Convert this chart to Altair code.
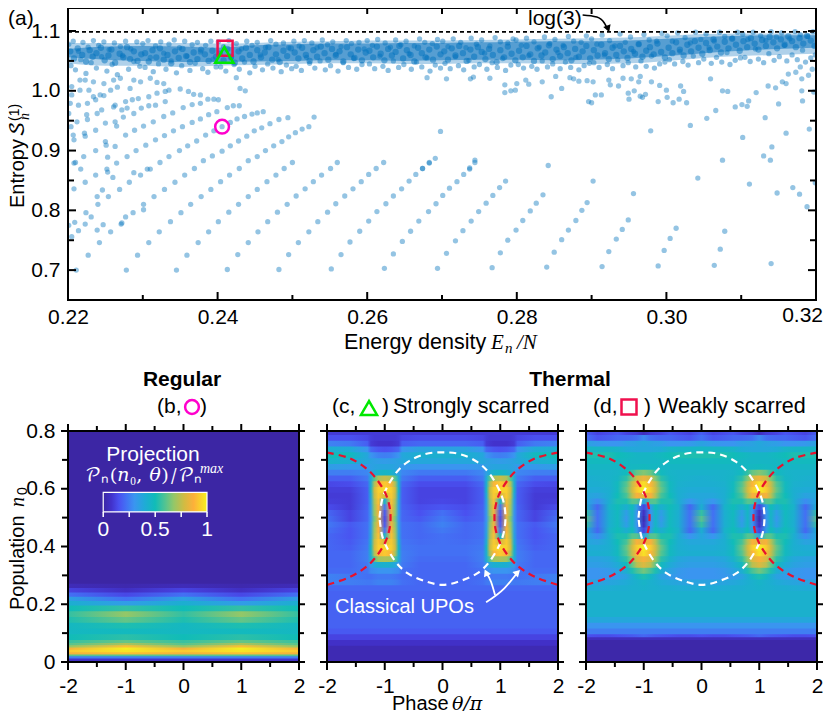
import altair as alt

FONT = "Liberation Sans"
SERIF = "Liberation Serif"
MATH = "DejaVu Math TeX Gyre"
DOT = "#0072bd"

# ---- panel (a): entropy vs energy density. x in 1e-4, y in 1e-3
FAN_X = [2278,2345,2413,2482,2552,2623,2694,2767,2840,2914,2989,3064,3140,
 2293,2359,2427,2495,2565,2635,2706,2778,2850,2923,2997,3072,
 2308,2374,2441,2508,2577,2647,2718,2788,2860,2933,3005,
 2322,2388,2454,2522,2590,2658,2728,2799,2869,2941,3013,
 2337,2401,2467,2534,2602,2669,2739,2808,2879,2949,
 2351,2415,2480,2547,2613,2682,2749,2818,2887,
 2364,2428,2493,2558,2625,2692,2759,2826,2894,
 2315,2378,2441,2505,2570,2635,2701,2768,2835,
 2329,2391,2453,2517,2581,2646,2710,2777,
 2343,2404,2466,2528,2592,2656,2720,2785,
 2356,2416,2478,2539,2602,2665,2729,
 2369,2429,2489,2551,2612,2674,2737,
 2323,2500,2560,2622,2683,2744,
 2381,2393,2406,2417,2428,2439,2449,2459,2470,2482,2494,
 2441,2453,2464,2475,2486,2495,2504,2513,2522,2529,
 2335,2349,2360,2372,2384,2395,2406,2417,2426,2436,2446,2453,2461,
 2279,2291,2304,2317,2329,2341,2353,2366,2377,2388,2399,2413,2421,2429,
 2289,2301,2314,2328,2340,2354,2366,2377,2387,2401,2395]
FAN_Y = [700,700,701,701,702,703,703,704,705,706,707,708,711,
 725,725,726,726,726,727,728,729,730,731,733,735,
 746,746,746,746,747,748,749,750,751,752,753,
 764,764,764,764,765,765,766,767,767,768,770,
 781,781,781,781,782,782,782,783,783,784,
 796,797,797,797,798,798,798,799,800,
 810,810,810,811,811,811,812,812,813,
 823,823,823,824,824,824,825,825,826,
 835,835,835,836,836,836,837,838,
 847,848,848,848,848,849,848,849,
 859,859,859,859,860,860,860,
 870,870,870,870,870,870,871,
 880,880,880,880,880,880,
 883,891,899,908,916,924,933,938,945,952,955,
 883,890,900,908,915,923,930,936,940,956,
 890,900,908,916,926,933,940,947,953,957,961,963,965,
 890,900,909,918,925,933,940,947,953,960,965,972,975,975,
 934,941,948,957,963,972,977,979,986,985,986]
LOOSE_X = [2680,2706,2738,2742,2764,2784,2800,2812,2816,2834,2784,2792,2798,2846,2860,2852,2871,2876,2883,2894,2902,2896,2900,2905,2913,2925,2923,2936,2942,2949,2950,2957,2965,2968,2972,2953,2965,2963,2980,2991,3000,3001,2989,3009,3017,3023,3019,3027,3059,3075,3082,3092,3101,3108,3110,3120,3136,3146,3155,3160,3150,3132,3066,3054,3032,2979,2698,3160,3191,3102,3141,3130,3139,3075,2842,2744,2737,2691,2683,2674,3181,3182,3197,3163,3173,3179,3190,3195,3181,3042,3111,3148,3169,3178,3188,3199,2902,2956,3078,
 2425,2430,2437,2377,2368,2361,2350,2335,2319,2328,2310,2297,2283,2266,2257,2243,2234,2228,2216,2205,2205,2216,2223,2234,2248,2261,2270,2288,2203,2214,2226,2237,2248,2263,2277,2286,2294,2308,2319,2330,2225,2226,2239,2245,2261,2272,2279,2204,2212,2207,2208,2222,2223,2237,2250,2263,2265,2274,2201,2250,2251,2277,2263,2210,2221,2237,2253,2288,2298,2308,2317,2330,
 2208,2217,2208,2223,2237,2253,2252,2265,2260,2246,2239,2254,2240,2224,2231,2209,2223,2247,2239,2214,2257,2205,2242,2227,2211,2201,2269,2282,2288,2297,2306,2310,2301,2301,2272,2271,2277,2287]
LOOSE_Y = [1022,1020,1020,1023,1021,1010,1012,1018,1011,1015,997,1000,1001,990,1004,1024,1022,1020,1016,1017,1015,982,980,993,993,1010,1018,1008,1021,996,986,1000,991,989,994,1020,1024,1015,1015,1009,1001,989,982,980,986,999,1008,980,1020,1000,999,973,977,974,983,997,1008,1005,1015,1012,978,955,967,954,942,933,932,929,936,922,906,891,884,884,875,884,869,887,879,870,1000,983,998,1028,1031,1040,1026,1036,1020,854,844,829,838,827,806,846,849,828,765,
 1022,1004,1000,993,994,999,1003,1001,1014,1012,1021,1015,1004,1006,1001,993,990,1001,1001,1007,993,1018,1018,1015,1012,1018,1021,1018,979,976,979,985,992,976,982,985,987,990,996,999,960,952,962,968,973,968,971,940,948,926,918,929,924,934,946,948,941,956,962,915,909,926,907,880,890,900,889,962,971,975,976,982,
 836,869,879,847,859,864,869,879,855,834,823,823,810,796,789,780,777,776,767,766,764,756,746,725,700,775,835,847,863,859,869,869,810,801,779,777,789,796]
CORE_X = [2203,2208,2213,2219,2224,2229,2233,2238,2244,2249,2254,2258,2263,2269,2274,2279,2283,2288,2293,2298,
 2303,2308,2313,2318,2323,2328,2333,2338,2343,2348,2353,2358,2363,2368,2373,2378,2383,2388,2393,2398,
 2403,2408,2413,2418,2423,2428,2433,2438,2443,2448,2453,2458,2463,2468,2473,2478,2483,2488,2493,2498,
 2503,2508,2513,2518,2523,2528,2533,2538,2543,2548,2553,2558,2563,2568,2573,2578,2583,2588,2593,2598,
 2603,2608,2613,2618,2623,2628,2633,2638,2643,2648,2653,2658,2663,2668,2673,2678,2683,2688,2693,2698,
 2703,2708,2713,2718,2723,2728,2733,2738,2743,2748,2753,2758,2763,2768,2773,2778,2783,2788,2793,2798,
 2803,2808,2813,2818,2823,2828,2833,2838,2843,2848,2853,2858,2863,2868,2873,2878,2883,2888,2893,2898,
 2903,2908,2913,2918,2923,2928,2933,2938,2943,2948,2953,2958,2963,2968,2973,2978,2983,2988,2993,2998,
 3003,3008,3013,3018,3023,3028,3033,3038,3043,3048,3053,3058,3063,3068,3073,3078,3083,3088,3093,3098,
 3103,3108,3113,3118,3123,3128,3133,3138,3143,3148,3153,3158,3163,3168,3173,3178,3183,3188,3193,3198]
CORE_Y = [1066,1054,1071,1060,1049,1068,1057,1063,1072,1051,1059,1069,1047,1062,1056,1073,1053,1066,1050,1061,
 1063,1049,1068,1056,1071,1052,1060,1046,1066,1055,1070,1058,1048,1064,1053,1069,1061,1050,1067,1057,
 1062,1051,1070,1057,1047,1066,1054,1072,1060,1049,1068,1056,1064,1073,1052,1061,1048,1067,1058,1071,
 1064,1054,1072,1060,1050,1068,1057,1074,1063,1052,1070,1059,1066,1049,1073,1061,1055,1069,1051,1064,
 1067,1056,1074,1062,1051,1070,1059,1065,1075,1054,1068,1060,1049,1072,1063,1056,1069,1052,1074,1061,
 1066,1052,1071,1059,1075,1063,1050,1069,1057,1073,1065,1053,1070,1060,1048,1068,1056,1074,1062,1051,
 1067,1056,1075,1061,1050,1071,1059,1064,1076,1053,1069,1058,1073,1063,1051,1070,1057,1066,1075,1054,
 1068,1059,1077,1063,1053,1072,1060,1075,1066,1055,1070,1062,1078,1057,1067,1073,1061,1079,1065,1056,
 1072,1063,1081,1069,1059,1077,1066,1083,1072,1062,1080,1068,1086,1074,1064,1082,1071,1087,1077,1067,
 1083,1073,1088,1079,1069,1085,1075,1090,1081,1071,1086,1077,1091,1083,1073,1088,1079,1092,1084,1075]
BAND_X = [2201,2204,2207,2210,2214,2217,2220,2224,2227,2231,2234,2238,2241,2245,2248,2252,2255,2259,2262,2266,2270,2273,2277,2281,2284,2288,2292,2296,
 2300,2303,2307,2310,2314,2317,2321,2324,2328,2331,2335,2338,2342,2345,2349,2352,2356,2359,2363,2366,2370,2373,2377,2380,2384,2387,2391,2394,2398,
 2401,2404,2408,2411,2415,2418,2422,2425,2429,2432,2436,2439,2443,2446,2450,2453,2457,2460,2464,2467,2471,2474,2478,2481,2485,2488,2492,2495,2499,
 2502,2505,2509,2512,2516,2519,2523,2526,2530,2533,2537,2540,2544,2547,2551,2554,2558,2561,2565,2568,2572,2575,2579,2582,2586,2589,2593,2596,
 2600,2603,2607,2610,2614,2617,2621,2624,2628,2631,2635,2638,2642,2645,2649,2652,2656,2659,2663,2666,2670,2673,2677,2680,2684,2687,2691,2694,2698,
 2701,2704,2708,2711,2715,2718,2722,2725,2729,2732,2736,2739,2743,2746,2750,2753,2757,2760,2764,2767,2771,2774,2778,2781,2785,2788,2792,2795,
 2799,2802,2806,2809,2813,2816,2820,2823,2827,2830,2834,2837,2841,2844,2848,2851,2855,2858,2862,2865,2869,2872,2876,2879,2883,2886,2890,2893,2897,
 2900,2903,2907,2910,2914,2917,2921,2924,2928,2931,2935,2938,2942,2945,2949,2952,2956,2959,2963,2966,2970,2973,2977,2980,2984,2987,2991,2994,2998,
 3001,3004,3008,3011,3015,3018,3022,3025,3029,3032,3036,3039,3043,3046,3050,3053,3057,3060,3064,3067,3071,3074,3078,3081,3085,3088,3092,3095,3099,
 3102,3105,3109,3112,3116,3119,3123,3126,3130,3133,3137,3140,3144,3147,3151,3154,3158,3161,3165,3168,3172,3175,3179,3182,3186,3189,3193,3196,3199]
BAND_Y = [1078,1042,1083,1035,1066,1052,1081,1029,1073,1047,1084,1038,1076,1057,1082,1033,1069,1044,1080,1027,1074,1059,1083,1036,1070,1049,1082,1041,
 1079,1039,1084,1056,1032,1075,1045,1082,1063,1036,1078,1050,1085,1030,1072,1042,1083,1058,1034,1077,1046,1081,1065,1037,1076,1031,1083,1053,1040,
 1082,1040,1074,1033,1084,1055,1044,1079,1036,1070,1048,1083,1030,1076,1041,1081,1060,1035,1073,1045,1084,1038,1078,1052,1032,1080,1043,1072,1037,
 1083,1041,1075,1034,1084,1056,1046,1080,1038,1072,1050,1085,1035,1077,1042,1082,1061,1033,1074,1047,1084,1039,1079,1054,1036,1081,1044,1070,
 1084,1045,1076,1037,1086,1058,1041,1080,1034,1073,1050,1085,1039,1077,1044,1083,1062,1036,1075,1048,1087,1040,1081,1055,1033,1079,1043,1086,1038,
 1083,1046,1074,1037,1087,1057,1042,1081,1035,1072,1051,1088,1040,1078,1044,1085,1063,1036,1075,1047,1089,1039,1082,1054,1034,1080,1043,1087,
 1085,1044,1076,1038,1088,1059,1041,1082,1036,1073,1050,1090,1040,1079,1045,1086,1064,1037,1076,1048,1091,1039,1083,1056,1035,1081,1042,1092,1046,
 1087,1047,1078,1039,1093,1060,1044,1084,1037,1075,1052,1095,1042,1081,1047,1090,1066,1040,1078,1050,1094,1041,1085,1058,1038,1083,1045,1096,1048,
 1092,1052,1083,1045,1097,1066,1049,1089,1043,1080,1058,1098,1047,1086,1053,1095,1072,1046,1083,1056,1098,1048,1091,1064,1044,1088,1051,1098,1055,
 1095,1056,1086,1049,1098,1070,1053,1092,1047,1084,1062,1099,1051,1090,1057,1097,1076,1050,1087,1060,1099,1052,1094,1068,1048,1091,1055,1099,1060]
# envelopes of the merged part of the band
ENV_X = [.22,.225,.23,.235,.24,.245,.25,.255,.26,.265,.27,.275,.28,.285,.29,.295,.30,.305,.31,.315,.32]
ENV_LO = [1.056,1.052,1.050,1.048,1.048,1.049,1.050,1.051,1.051,1.050,1.051,1.052,1.052,1.051,1.052,1.054,1.058,1.063,1.067,1.070,1.072]
ENV_HI = [1.070,1.074,1.075,1.074,1.072,1.076,1.078,1.079,1.079,1.080,1.080,1.081,1.082,1.083,1.083,1.084,1.087,1.090,1.092,1.093,1.093]
OUT_LO = [1.046,1.042,1.042,1.040,1.042,1.043,1.045,1.046,1.046,1.045,1.045,1.046,1.046,1.045,1.045,1.046,1.050,1.055,1.058,1.060,1.062]
OUT_HI = [1.080,1.080,1.080,1.080,1.079,1.080,1.082,1.083,1.084,1.084,1.084,1.085,1.086,1.087,1.088,1.089,1.092,1.095,1.096,1.096,1.096]
MARK_X = [0.2406, 0.2410, 0.2409]
MARK_Y = [0.94, 1.071, 1.06]
LOG3 = [1.0986]
ARROW_X = [0.2888, 0.2907, 0.2917, 0.2922]
ARROW_Y = [1.1268, 1.1234, 1.1134, 1.1017]
X_MAJOR = [0.22,0.24,0.26,0.28,0.30,0.32]
X_LABELLED = [0.22,0.24,0.26,0.28,0.30]
X_MINOR = [0.23,0.25,0.27,0.29,0.31]
Y_MAJOR = [0.7,0.8,0.9,1.0,1.1]
Y_MINOR = [0.75,0.85,0.95,1.05]

# ---- heat tables: row edges and values on theta stops
B_STOPS = [0,1,2]
B_EDGES = [0,.008,.016,.024,.03,.038,.046,.054,.062,.07,.08,.10,.12,.14,.16,.18,.20,.215,.23,.245,.26,.275,.8]
B_VALUES = [[.02,.02,.02],[.08,.08,.08],[.25,.25,.25],[.6,.6,.6],[.85,.9,.85],[.92,.98,.92],[.85,1,.85],[.68,.9,.68],[.6,.72,.6],[.56,.62,.56],[.5,.54,.5],[.47,.48,.47],[.47,.52,.47],[.52,.62,.52],[.55,.68,.55],[.5,.55,.5],[.42,.33,.42],[.35,.22,.35],[.22,.13,.22],[.12,.06,.12],[.04,.02,.04],[0,0,0]]

C_STOPS = [0,.4,.7,.76,.82,.89,1,1.11,1.18,1.24,1.3,1.6,2]
C_LOW = [[.03]*13,[.07]*13,[.12]*13,[.17]*13,[.19]*13,[.2]*13,
 [.2,.2,.22,.24,.25,.26,.26,.26,.25,.24,.24,.25,.26],
 [.2,.2,.21,.22,.23,.24,.24,.24,.23,.22,.22,.24,.26],
 [.2,.2,.22,.28,.29,.3,.3,.3,.29,.28,.23,.21,.21],
 [.2,.2,.24,.32,.38,.42,.43,.42,.38,.32,.24,.2,.2],
 [.21,.21,.25,.4,.6,.7,.72,.7,.6,.4,.25,.2,.2]]
C_LOW_EDGES = [0,.06,.08,.10,.12,.25,.27,.29,.31,.33,.35]
C_LMID = [[.22,.22,.25,.43,.72,.88,.92,.88,.72,.43,.25,.2,.2],
 [.22,.22,.24,.46,.78,.93,.95,.93,.78,.46,.24,.18,.2],
 [.22,.21,.23,.41,.76,.92,.78,.92,.76,.41,.23,.17,.2],
 [.22,.2,.22,.37,.72,.9,.42,.9,.72,.37,.22,.16,.2],
 [.24,.2,.22,.35,.7,.88,.24,.88,.7,.35,.22,.16,.22],
 [.26,.2,.22,.33,.68,.85,.17,.85,.68,.33,.22,.17,.24]]
C_MID = [[.24,.17,.2,.3,.65,.82,.14,.82,.65,.3,.2,.12,.22],
 [.22,.15,.2,.32,.68,.85,.17,.85,.68,.32,.2,.12,.20],
 [.16,.14,.19,.34,.7,.88,.24,.88,.7,.34,.19,.1,.14],
 [.13,.12,.18,.36,.72,.9,.42,.9,.72,.36,.18,.1,.11],
 [.12,.12,.18,.4,.76,.92,.78,.92,.76,.4,.18,.1,.1],
 [.12,.12,.18,.45,.78,.93,.95,.93,.78,.45,.18,.11,.11],
 [.14,.14,.2,.42,.72,.88,.92,.88,.72,.42,.2,.14,.13]]
C_HIGH = [[.18,.18,.24,.4,.6,.72,.76,.72,.6,.4,.24,.18,.18],
 [.24,.24,.27,.35,.4,.44,.46,.44,.4,.35,.27,.25,.25],
 [.3,.3,.32,.35,.36,.37,.37,.37,.36,.35,.32,.32,.34],
 [.38,.38,.38,.36,.35,.34,.33,.34,.35,.36,.38,.42,.44],
 [.42,.42,.38,.3,.28,.26,.25,.26,.28,.3,.38,.48,.5],
 [.36,.36,.3,.2,.18,.16,.15,.16,.18,.2,.3,.4,.42],
 [.2,.2,.18,.1,.09,.08,.08,.08,.09,.1,.18,.24,.26],
 [.14,.14,.13,.11,.1,.1,.1,.1,.1,.11,.13,.15,.15],
 [.1]*13]

D_STOPS = [0,.2,.4,.55,.7,.8,.88,1,1.12,1.2,1.3,1.45,1.6,1.8,2]
D_MID = [[.6,.22,.42,.48,.32,.46,.3,.03,.3,.46,.32,.48,.42,.22,.6],
 [.55,.22,.42,.48,.34,.46,.3,.06,.3,.46,.34,.48,.42,.22,.55],
 [.42,.2,.44,.5,.42,.5,.34,.12,.34,.5,.42,.5,.44,.2,.42],
 [.38,.3,.42,.52,.52,.6,.6,.35,.6,.6,.52,.52,.42,.28,.38],
 [.38,.38,.42,.5,.58,.74,.86,.82,.86,.74,.58,.5,.42,.36,.38],
 [.4,.4,.42,.48,.62,.78,.92,1,.92,.78,.62,.48,.42,.4,.4],
 [.42,.42,.43,.48,.6,.76,.88,.97,.88,.76,.6,.48,.43,.42,.42]]
D_LOW = [[.01]*15,[.05]*15,[.15,.14,.14,.15,.16,.17,.18,.2,.18,.17,.16,.15,.14,.14,.15],[.25]*15,[.3]*15,[.38]*15,[.43]*15,
 [.4,.4,.41,.42,.42,.43,.43,.44,.43,.43,.42,.42,.41,.4,.4],
 [.36,.36,.37,.38,.4,.42,.43,.45,.43,.42,.4,.38,.37,.36,.36],
 [.3,.3,.31,.33,.36,.42,.47,.52,.47,.42,.36,.33,.31,.3,.3],
 [.3,.3,.32,.36,.42,.52,.58,.64,.58,.52,.42,.36,.32,.3,.3],
 [.34,.34,.36,.4,.48,.62,.74,.8,.74,.62,.48,.4,.36,.34,.34],
 [.36,.36,.38,.44,.54,.68,.8,.86,.8,.68,.54,.44,.38,.36,.36]]
D_LOW_EDGES = [0,.08,.09,.10,.12,.14,.16,.25,.27,.29,.31,.33,.35]
D_HIGH = [[.42,.43,.44,.46,.54,.66,.78,.84,.78,.66,.54,.46,.44,.43,.42],
 [.44,.44,.44,.45,.48,.55,.62,.66,.62,.55,.48,.45,.44,.44,.44],
 [.46,.46,.46,.46,.46,.47,.47,.48,.47,.47,.46,.46,.46,.46,.46],
 [.48,.48,.48,.48,.47,.46,.46,.46,.46,.46,.47,.48,.48,.48,.48],
 [.52,.52,.52,.5,.48,.47,.46,.46,.46,.47,.48,.5,.52,.52,.52],
 [.46,.46,.46,.45,.4,.39,.38,.38,.38,.39,.4,.45,.46,.46,.46],
 [.36,.32,.3,.3,.34,.35,.36,.38,.36,.35,.34,.3,.3,.32,.36],
 [.22,.16,.18,.2,.2,.21,.22,.28,.22,.21,.2,.2,.18,.16,.22],
 [.18,.12,.14,.16,.12,.11,.1,.05,.1,.11,.12,.16,.14,.12,.18]]

# ---- UPO curves (theta/pi, n0)
WHITE_T = [-1.09,-1.03,-.83,-.6,-.3,0,.3,.6,.83,1.03,1.09,1.03,.83,.6,.3,0,-.3,-.6,-.83,-1.03,-1.09]
WHITE_N = [.5,.573,.648,.693,.72,.726,.72,.693,.648,.573,.5,.427,.352,.307,.28,.267,.28,.307,.352,.427,.5]
RED_L_T = [-2,-1.6,-1.26,-1.03,-.93,-.9,-.93,-1.03,-1.26,-1.6,-2]
RED_R_T = [2,1.6,1.26,1.03,.93,.9,.93,1.03,1.26,1.6,2]
RED_N = [.725,.705,.66,.6,.55,.5,.45,.4,.34,.295,.267]
UPO_ARROW1_T = [.91,.84,.755]
UPO_ARROW1_N = [.232,.278,.31]
UPO_ARROW2_T = [.755,1.07,1.30]
UPO_ARROW2_N = [.207,.255,.31]
CB_X = [-1.39,.407]
CB_Y = [.5196,.5877]
CB_TICKS = [-1.39,-.94,-.49,-.04,.407]
CB_LABELS = ["0","0.5","1"]
CB_LABEL_X = [-1.39,-.49,.407]
T_MAJOR = [-2,-1,0,1,2]
T_MINOR = [-1.5,-.5,.5,1.5]
N_MAJOR = [0,.2,.4,.6,.8]
N_MINOR = [.1,.3,.5,.7]

CMAP = [(0,"#3c26a4"),(.08,"#4232cc"),(.15,"#4a50f0"),(.22,"#4370f4"),(.3,"#3a95f0"),(.4,"#1fabd6"),(.5,"#10bcb8"),
        (.6,"#55c490"),(.68,"#94c768"),(.78,"#d2bb42"),(.87,"#fdb03a"),(1,"#f5f020")]

def rgb(h):
    return [int(h[i:i+2], 16) for i in (1, 3, 5)]

def cm(v):
    for (a, ca), (b, cb) in zip(CMAP, CMAP[1:]):
        if v <= b:
            f = (v - a) / (b - a)
            c = [round(p + (q - p) * f) for p, q in zip(rgb(ca), rgb(cb))]
            return "#%02x%02x%02x" % tuple(c)
    return CMAP[-1][1]

def grad(stops, vals):
    pts = {}
    for s, v in zip(stops, vals):
        pts[(2 - s) / 4] = v
        pts[(2 + s) / 4] = v
    return {"gradient": "linear", "x1": 0, "y1": 0, "x2": 1, "y2": 0,
            "stops": [{"offset": o, "color": cm(pts[o])} for o in sorted(pts)]}

def heat_rows(stops, edges, vals):
    out = []
    for lo, hi, v in zip(edges[:-1], edges[1:], vals):
        out.append({"x0": -2, "x1": 2, "y0": lo - .004, "y1": hi, "g": grad(stops, v)})
    return out

W, H = 231, 231
TW, TH = 748, 292
one = alt.Data(values=[{"a": 1}])

def txt(s, x, y, size=21, font=FONT, color="black", align="left", style="normal", weight="normal", angle=0):
    return alt.Chart(one).mark_text(text=s, font=font, fontSize=size, color=color, align=align,
                                    baseline="middle", fontStyle=style, fontWeight=weight, angle=angle
                                    ).encode(x=alt.value(x), y=alt.value(y))

def vticks(vals, sc, y0, y1, color="black", width=2):
    return alt.Chart(alt.Data(values=[{"v": v} for v in vals])).mark_rule(color=color, strokeWidth=width).encode(
        x=alt.X("v:Q", scale=sc, axis=None), y=alt.value(y0), y2=alt.value(y1))

def hticks(vals, sc, x0, x1, color="black", width=2):
    return alt.Chart(alt.Data(values=[{"v": v} for v in vals])).mark_rule(color=color, strokeWidth=width).encode(
        y=alt.Y("v:Q", scale=sc, axis=None), x=alt.value(x0), x2=alt.value(x1))

def frame(w, h):
    return alt.Chart(one).mark_rect(fill="transparent", stroke="black", strokeWidth=2).encode(
        x=alt.value(0), x2=alt.value(w), y=alt.value(0), y2=alt.value(h))

def line(xs, ys, sx, sy, **kw):
    d = [{"x": a, "y": b, "i": i} for i, (a, b) in enumerate(zip(xs, ys))]
    return alt.Chart(alt.Data(values=d)).mark_line(**kw).encode(
        x=alt.X("x:Q", scale=sx, axis=None), y=alt.Y("y:Q", scale=sy, axis=None), order="i:Q")

# ---- top chart
xs_t = alt.Scale(domain=[.22, .32], nice=False, zero=False)
ys_t = alt.Scale(domain=[.65, 1.1385], nice=False, zero=False)
def dots(xl, yl, size, op, axes=False):
    d = [{"x": a / 10000, "y": b / 1000} for a, b in zip(xl, yl)]
    ax = alt.Axis(values=X_LABELLED, format=".2f", ticks=False, domain=False, grid=False, labelFont=FONT,
                  labelFontSize=21, labelColor="black", labelPadding=6, title=None, labelOverlap=False, labelFlush=False) if axes else None
    ay = alt.Axis(values=Y_MAJOR, format=".1f", ticks=False, domain=False, grid=False, labelFont=FONT,
                  labelFontSize=21, labelColor="black", labelPadding=8, title=None, labelOverlap=False) if axes else None
    return alt.Chart(alt.Data(values=d)).mark_circle(size=size, opacity=op, color=DOT, clip=True).encode(
        x=alt.X("x:Q", scale=xs_t, axis=ax), y=alt.Y("y:Q", scale=ys_t, axis=ay))

def marker(i, shape, color, size):
    return alt.Chart(alt.Data(values=[{"x": MARK_X[i], "y": MARK_Y[i]}])).mark_point(
        shape=shape, size=size, filled=False, stroke=color, strokeWidth=2.5, opacity=1).encode(
        x=alt.X("x:Q", scale=xs_t, axis=None), y=alt.Y("y:Q", scale=ys_t, axis=None))

def envelope(lo, hi, op):
    return alt.Chart(alt.Data(values=[{"x": a, "l": b, "h": c} for a, b, c in zip(ENV_X, lo, hi)])).mark_area(
        color="#1a7cc2", opacity=op, interpolate="monotone", clip=True).encode(
        x=alt.X("x:Q", scale=xs_t, axis=None), y=alt.Y("l:Q", scale=ys_t, axis=None), y2="h:Q")

top = alt.layer(
    envelope(OUT_LO, OUT_HI, .35),
    envelope(ENV_LO, ENV_HI, .6),
    dots(CORE_X, CORE_Y, 40, .5, True),
    dots(BAND_X, BAND_Y, 28, .45),
    dots(FAN_X, FAN_Y, 28, .42),
    dots(LOOSE_X, LOOSE_Y, 28, .42),
    alt.Chart(alt.Data(values=[{"y": v} for v in LOG3])).mark_rule(color="black", strokeWidth=1.6, strokeDash=[4, 3]).encode(
        y=alt.Y("y:Q", scale=ys_t, axis=None), x=alt.value(0), x2=alt.value(TW)),
    marker(1, "square", "#f0104e", 225),
    marker(2, "triangle-up", "#00e800", 330),
    marker(0, "circle", "#ff00cc", 190),
    vticks(X_MAJOR, xs_t, TH, TH - 8), vticks(X_MINOR, xs_t, TH, TH - 5),
    vticks(X_MAJOR, xs_t, 0, 6), vticks(X_MINOR, xs_t, 0, 6),
    hticks(Y_MAJOR, ys_t, 0, 8), hticks(Y_MINOR, ys_t, 0, 6),
    hticks(Y_MAJOR, ys_t, TW, TW - 8), hticks(Y_MINOR, ys_t, TW, TW - 6),
    frame(TW, TH),
    line(ARROW_X, ARROW_Y, xs_t, ys_t, color="black", strokeWidth=1.6, interpolate="monotone"),
    alt.Chart(alt.Data(values=[{"x": ARROW_X[-1], "y": ARROW_Y[-1] + .002}])).mark_point(
        shape="triangle-up", filled=True, color="black", size=60, angle=160, opacity=1).encode(
        x=alt.X("x:Q", scale=xs_t, axis=None), y=alt.Y("y:Q", scale=ys_t, axis=None)),
    txt("log(3)", 460, 11),
    txt("(a)", -60, 11),
    txt("Entropy", -50, 200, size=20, angle=270),
    txt("𝒮", -50, 129, size=20, font=MATH, angle=270),
    txt("n", -43, 112, size=14, font=SERIF, style="italic", angle=270),
    txt("(1)", -53, 113, size=14, angle=270),
    txt("0.32", 755, 308, align="right"),
    txt("Energy density", 276, 335, size=21.5),
    txt("E", 423, 335, font=SERIF, style="italic"),
    txt("n", 437, 340, size=15, font=SERIF, style="italic"),
    txt("/N", 449, 335, font=SERIF, style="italic"),
).resolve_axis(x="independent", y="independent").properties(width=TW, height=TH)

# ---- bottom panels
xs_b = alt.Scale(domain=[-2, 2], nice=False, zero=False)
ys_b = alt.Scale(domain=[0, .8], nice=False, zero=False)

def heat(rows, show_y):
    ax = alt.Axis(values=T_MAJOR, ticks=False, domain=False, grid=False, labelFont=FONT, labelFontSize=21, labelColor="black",
                  labelPadding=13, title=None, labelExpr="'' + datum.value", labelOverlap=False, labelFlush=False)
    ay = alt.Axis(values=N_MAJOR, ticks=False, domain=False, grid=False, labelFont=FONT, labelFontSize=21, labelColor="black",
                  labelPadding=13, title=None, labelOverlap=False, labelExpr="datum.value == 0 ? '0' : format(datum.value, '.1f')") if show_y else None
    return alt.Chart(alt.Data(values=rows)).mark_rect(clip=True).encode(
        x=alt.X("x0:Q", scale=xs_b, axis=ax), x2="x1:Q",
        y=alt.Y("y0:Q", scale=ys_b, axis=ay), y2="y1:Q",
        color=alt.Color("g:N", scale=None, legend=None))

def panel_ticks():
    return [vticks(T_MAJOR, xs_b, H, H + 8), vticks(T_MINOR, xs_b, H, H + 5),
            vticks(T_MAJOR, xs_b, 0, -7), vticks(T_MINOR, xs_b, 0, -5),
            hticks(N_MAJOR, ys_b, 0, -7), hticks(N_MINOR, ys_b, 0, -6),
            hticks(N_MAJOR, ys_b, W, W + 6), hticks(N_MINOR, ys_b, W, W + 5),
            frame(W, H)]

def icon(shape, color, x, y, size):
    return alt.Chart(one).mark_point(shape=shape, size=size, filled=False, stroke=color, strokeWidth=2.5, opacity=1).encode(
        x=alt.value(x), y=alt.value(y))

def curves():
    return [line(WHITE_T, WHITE_N, xs_b, ys_b, color="white", strokeWidth=2.2, strokeDash=[7, 5], interpolate="cardinal"),
            line(RED_L_T, RED_N, xs_b, ys_b, color="#e8112d", strokeWidth=2.2, strokeDash=[7, 5], interpolate="cardinal"),
            line(RED_R_T, RED_N, xs_b, ys_b, color="#e8112d", strokeWidth=2.2, strokeDash=[7, 5], interpolate="cardinal")]

cb_grad = {"gradient": "linear", "x1": 0, "y1": 0, "x2": 1, "y2": 0,
           "stops": [{"offset": a, "color": c} for a, c in CMAP]}
colorbar = [
    alt.Chart(alt.Data(values=[{"a": CB_X[0], "b": CB_X[1], "c": CB_Y[0], "d": CB_Y[1]}])).mark_rect(
        color=cb_grad, stroke="white", strokeWidth=1.2).encode(
        x=alt.X("a:Q", scale=xs_b, axis=None), x2="b:Q", y=alt.Y("c:Q", scale=ys_b, axis=None), y2="d:Q"),
    alt.Chart(alt.Data(values=[{"v": v} for v in CB_TICKS])).mark_rule(color="white", strokeWidth=1.5).encode(
        x=alt.X("v:Q", scale=xs_b, axis=None), y=alt.value(81), y2=alt.value(86)),
    alt.Chart(alt.Data(values=[{"v": v, "t": t} for v, t in zip(CB_LABEL_X, CB_LABELS)])).mark_text(
        font=FONT, fontSize=21, color="white", baseline="middle").encode(
        x=alt.X("v:Q", scale=xs_b, axis=None), y=alt.value(99), text="t:N"),
    txt("Projection", 85, 24, color="white", align="center"),
    txt("𝒫ₙ(𝑛₀, 𝜃)/𝒫ₙ", 17, 44, size=19, font=MATH, color="white"),
    txt("max", 132, 38, size=14, font=SERIF, style="italic", color="white"),
]

b_rows = heat_rows(B_STOPS, B_EDGES, B_VALUES)
c_vals = C_LOW + C_LMID + C_MID + C_HIGH
c_edges = C_LOW_EDGES + [round(.37 + .02 * i, 2) for i in range(22)] + [.8]
c_rows = heat_rows(C_STOPS, c_edges, c_vals)
d_vals = D_LOW + D_MID[:0:-1] + D_MID + D_HIGH
d_edges = D_LOW_EDGES + [round(.37 + .02 * i, 2) for i in range(22)] + [.8]
d_rows = heat_rows(D_STOPS, d_edges, d_vals)

pb = alt.layer(heat(b_rows, True), *colorbar, *panel_ticks(),
    txt("Regular", 114, -51, weight="bold", align="center"),
    txt("(b,", 89, -24),
    icon("circle", "#ff00cc", 124, -24, 190),
    txt(")", 132, -24),
    txt("Population", -50, 179, size=20, angle=270),
    txt("n", -50, 76, size=20, font=SERIF, style="italic", angle=270),
    txt("0", -45, 64, size=14, angle=270),
).resolve_axis(x="independent", y="independent").properties(width=W, height=H)

arrow_heads = alt.Chart(alt.Data(values=[{"x": UPO_ARROW1_T[-1], "y": UPO_ARROW1_N[-1], "r": 335}, {"x": UPO_ARROW2_T[-1], "y": UPO_ARROW2_N[-1], "r": 45}])).mark_point(
    shape="triangle-up", filled=True, color="white", size=60, opacity=1).encode(
    x=alt.X("x:Q", scale=xs_b, axis=None), y=alt.Y("y:Q", scale=ys_b, axis=None), angle=alt.Angle("r:Q", scale=None))

pc = alt.layer(heat(c_rows, False), *curves(), *panel_ticks(),
    line(UPO_ARROW1_T, UPO_ARROW1_N, xs_b, ys_b, color="white", strokeWidth=1.8, interpolate="monotone"),
    line(UPO_ARROW2_T, UPO_ARROW2_N, xs_b, ys_b, color="white", strokeWidth=1.8, interpolate="monotone"),
    arrow_heads,
    txt("Classical UPOs", 8, 176, size=20, color="white"),
    txt("Thermal", 243, -51, weight="bold", align="center"),
    txt("(c,", 5, -24),
    icon("triangle-up", "#00e800", 42, -23, 260),
    txt(")", 55, -24),
    txt("Strongly scarred", 66, -24, size=21.5),
    txt("Phase", 65, 273, size=20),
    txt("θ/π", 125, 273, size=19, font="DejaVu Serif", style="italic"),
).resolve_axis(x="independent", y="independent").properties(width=W, height=H)

pd_ = alt.layer(heat(d_rows, False), *curves(), *panel_ticks(),
    txt("(d,", 7, -24),
    icon("square", "#f0104e", 43, -24, 225),
    txt(")", 58, -24),
    txt("Weakly scarred", 72, -24, size=21.5),
).resolve_axis(x="independent", y="independent").properties(width=W, height=H)

bottom = alt.hconcat(pb, pc, pd_, spacing=28, bounds="flush")
chart = alt.vconcat(top, bottom, spacing=131, bounds="flush").properties(
    padding={"left": 0, "top": -1, "right": -1, "bottom": -3}).configure_view(stroke=None)
chart.save("out.html", embed_options={"renderer": "svg", "actions": False})
